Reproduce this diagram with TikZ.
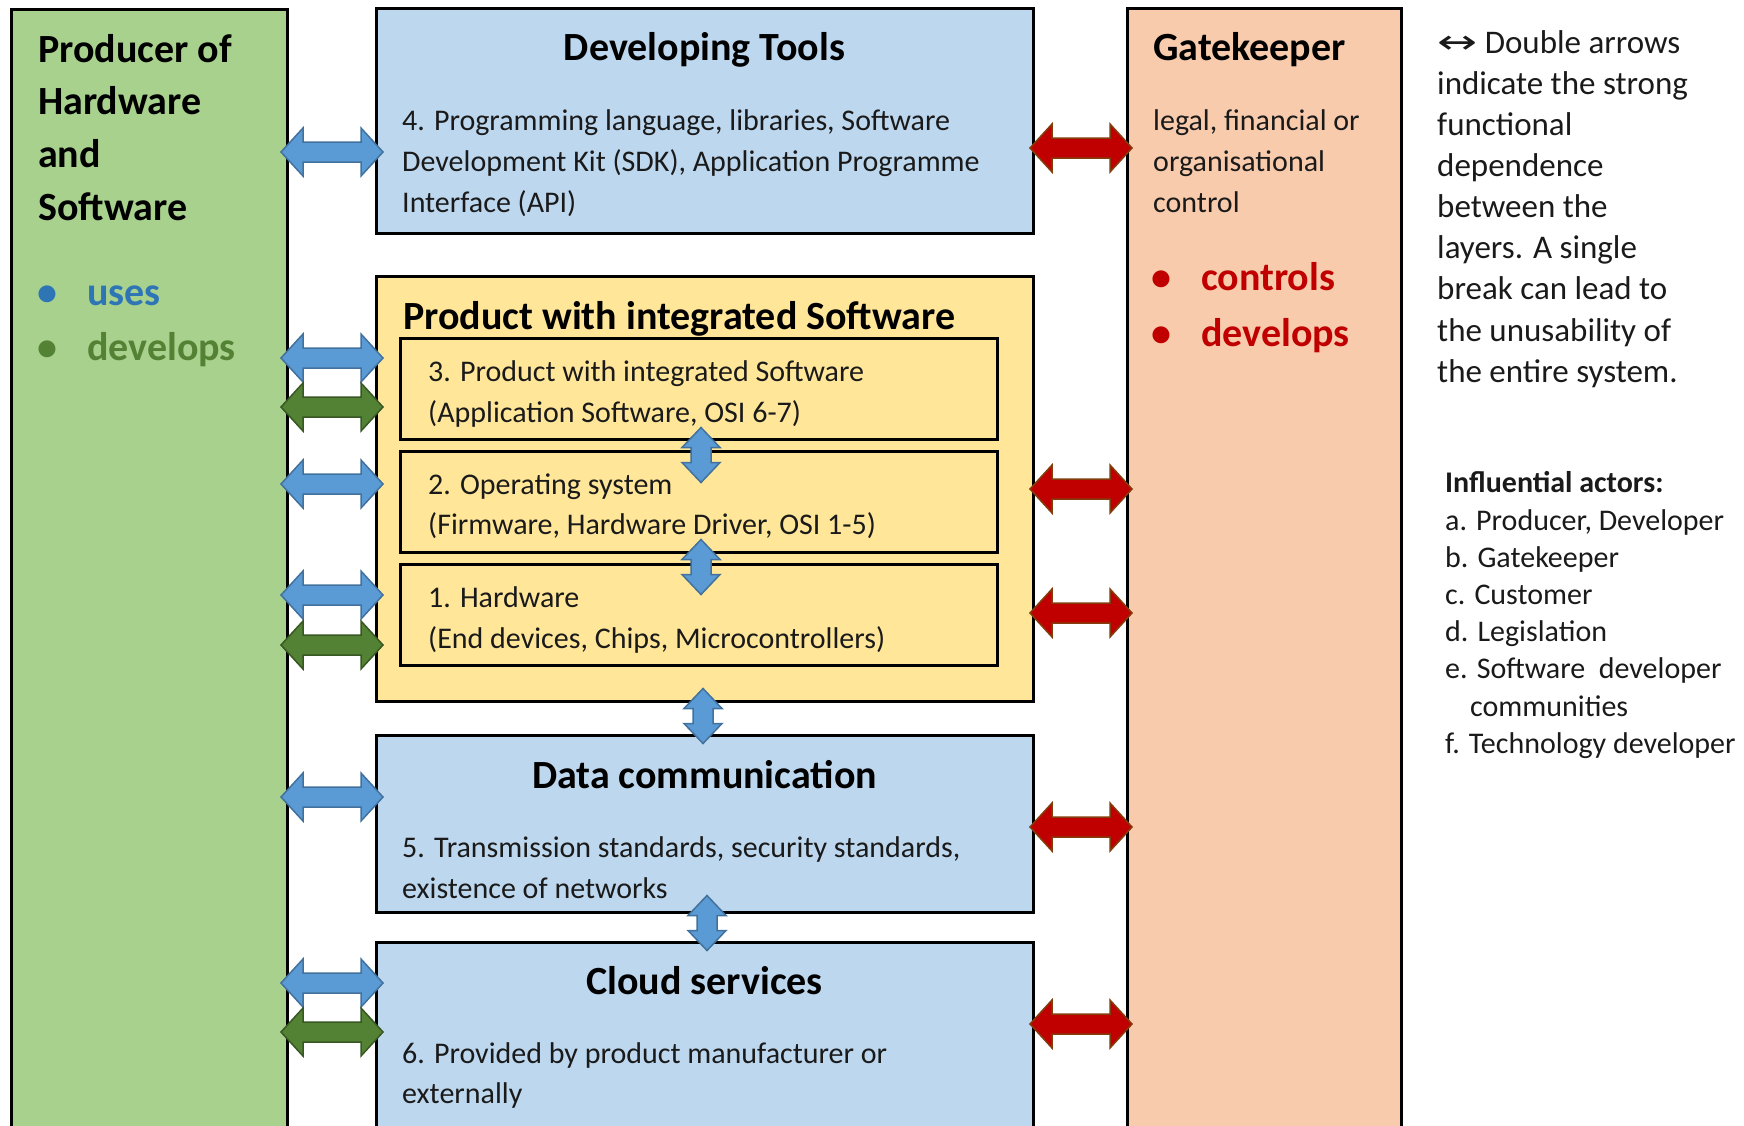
\documentclass[tikz,border=0pt]{standalone}
\usepackage{fontspec}
\setmainfont{Carlito}
\newfontfamily\symfont{DejaVu Sans}
\definecolor{grfill}{HTML}{A9D18E}
\definecolor{blfill}{HTML}{BDD7EE}
\definecolor{yefill}{HTML}{FFE699}
\definecolor{pefill}{HTML}{F8CBAD}
\definecolor{arrblue}{HTML}{5B9BD5}
\definecolor{arrblueline}{HTML}{41719C}
\definecolor{arrgreen}{HTML}{548235}
\definecolor{arrgreenline}{HTML}{385723}
\definecolor{arrred}{HTML}{C00000}
\definecolor{arrredline}{HTML}{843C0C}
\definecolor{usesblue}{HTML}{2E75B6}
\definecolor{devgreen}{HTML}{548235}
\definecolor{ctrlred}{HTML}{C00000}
\definecolor{txt}{HTML}{1A1A1A}
\tikzset{
  panel/.style={draw=black, line width=3pt, anchor=north west, inner sep=0pt, outer sep=0pt},
  hdarr/.pic={\path[pic actions] (-51,0) -- (-29,-24) -- (-29,-10) -- (29,-10) -- (29,-24) -- (51,0) -- (29,24) -- (29,10) -- (-29,10) -- (-29,24) -- cycle;},
  vdarr/.pic={\path[pic actions] (0,-27.5) -- (19,-7.5) -- (10,-7.5) -- (10,7.5) -- (19,7.5) -- (0,27.5) -- (-19,7.5) -- (-10,7.5) -- (-10,-7.5) -- (-19,-7.5) -- cycle;},
  barr/.style={fill=arrblue, draw=arrblueline, line width=1.5pt},
  garr/.style={fill=arrgreen, draw=arrgreenline, line width=1.5pt},
  rarr/.style={fill=arrred, draw=arrredline, line width=1.5pt},
  ttl/.style={font=\fontsize{40}{48}\selectfont\bfseries, inner sep=0pt, anchor=base, text=black},
  ttll/.style={ttl, anchor=base west},
  body/.style={font=\fontsize{30}{36}\selectfont, inner sep=0pt, anchor=base west, text=txt},
  note/.style={font=\fontsize{33}{40}\selectfont, inner sep=0pt, anchor=base west, text=txt},
  act/.style={font=\fontsize{30}{36}\selectfont, inner sep=0pt, anchor=base west, text=txt},
  bul/.style={font=\fontsize{40}{48}\selectfont\bfseries, inner sep=0pt, anchor=base},
}
\begin{document}
\begin{tikzpicture}[x=1pt,y=-1pt]
\path[use as bounding box] (0,0) rectangle (1744,1125);
\clip (0,0) rectangle (1744,1125);
% panels
\node[panel, fill=grfill, minimum width=276pt, minimum height=1140pt] (producer) at (11,9) {};
\node[panel, fill=pefill, minimum width=274pt, minimum height=1140pt] (gate) at (1127,8) {};
\node[panel, fill=blfill, minimum width=657pt, minimum height=225pt] (devtools) at (376,8) {};
\node[panel, fill=yefill, minimum width=657pt, minimum height=425pt] (product) at (376,276) {};
\node[panel, fill=yefill, minimum width=597pt, minimum height=101pt] (box3) at (400,338) {};
\node[panel, fill=yefill, minimum width=597pt, minimum height=101pt] (box2) at (400,451) {};
\node[panel, fill=yefill, minimum width=597pt, minimum height=101pt] (box1) at (400,564) {};
\node[panel, fill=blfill, minimum width=657pt, minimum height=177pt] (datacomm) at (376,735) {};
\node[panel, fill=blfill, minimum width=657pt, minimum height=200pt] (cloud) at (376,942) {};
% producer text
\node[ttll] (p1) at (38,62) {Producer of};
\node[ttll] (p2) at (38,114) {Hardware};
\node[ttll] (p3) at (38,167) {and};
\node[ttll] (p4) at (38,220) {Software};
\node[bul, text=usesblue] (pb1) at (47,305) {•};
\node[ttll, text=usesblue] (puses) at (87,305) {uses};
\node[bul, text=devgreen] (pb2) at (47,360) {•};
\node[ttll, text=devgreen] (pdev) at (87,360) {develops};
% developing tools
\node[ttl] (dtt) at (704.5,60) {Developing Tools};
\node[body] (dt1) at (402,130) {4. Programming language, libraries, Software};
\node[body] (dt2) at (402,171) {Development Kit (SDK), Application Programme};
\node[body] (dt3) at (402,212) {Interface (API)};
% gatekeeper
\node[ttll] (gtt) at (1153,60) {Gatekeeper};
\node[body] (g1) at (1153,130) {legal, financial or};
\node[body] (g2) at (1153,171) {organisational};
\node[body] (g3) at (1153,212) {control};
\node[bul, text=ctrlred] (gb1) at (1161,290) {•};
\node[ttll, text=ctrlred] (gctrl) at (1201,290) {controls};
\node[bul, text=ctrlred] (gb2) at (1161,346) {•};
\node[ttll, text=ctrlred] (gdev) at (1201,346) {develops};
% product
\node[ttll] (prt) at (403,329) {Product with integrated Software};
\node[body] (b31) at (428,381) {3. Product with integrated Software};
\node[body] (b32) at (428,422) {(Application Software, OSI 6-7)};
\node[body] (b21) at (428,494) {2. Operating system};
\node[body] (b22) at (428,534) {(Firmware, Hardware Driver, OSI 1-5)};
\node[body] (b11) at (428,607) {1. Hardware};
\node[body] (b12) at (428,648) {(End devices, Chips, Microcontrollers)};
% data communication
\node[ttl] (dct) at (704.5,788) {Data communication};
\node[body] (dc1) at (402,857) {5. Transmission standards, security standards,};
\node[body] (dc2) at (402,898) {existence of networks};
% cloud
\node[ttl] (clt) at (704.5,994) {Cloud services};
\node[body] (cl1) at (402,1063) {6. Provided by product manufacturer or};
\node[body] (cl2) at (402,1103) {externally};
% right notes
\node[note] (n1) at (1437,53) {{\symfont\scalebox{1.45}[1]{↔}} Double arrows};
\node[note] (n2) at (1437,94) {indicate the strong};
\node[note] (n3) at (1437,135) {functional};
\node[note] (n4) at (1437,176) {dependence};
\node[note] (n5) at (1437,217) {between the};
\node[note] (n6) at (1437,258) {layers. A single};
\node[note] (n7) at (1437,299) {break can lead to};
\node[note] (n8) at (1437,341) {the unusability of};
\node[note] (n9) at (1437,382) {the entire system.};
\node[act, font=\fontsize{30}{36}\selectfont\bfseries] (a0) at (1445,492) {Influential actors:};
\node[act] (a1) at (1445,530) {a. Producer, Developer};
\node[act] (a2) at (1445,567) {b. Gatekeeper};
\node[act] (a3) at (1445,604) {c. Customer};
\node[act] (a4) at (1445,641) {d. Legislation};
\node[act] (a5) at (1445,678) {e. Software\ \ developer};
\node[act] (a6) at (1470,716) {communities};
\node[act] (a7) at (1445,753) {f. Technology developer};
% left arrows
\pic[barr] (la1) at (332,152) {hdarr};
\pic[barr] (la2) at (332,358) {hdarr};
\pic[garr] (la3) at (332,407) {hdarr};
\pic[barr] (la4) at (332,484) {hdarr};
\pic[barr] (la5) at (332,595) {hdarr};
\pic[garr] (la6) at (332,645) {hdarr};
\pic[barr] (la7) at (332,797) {hdarr};
\pic[barr] (la8) at (332,983) {hdarr};
\pic[garr] (la9) at (332,1032) {hdarr};
% right arrows
\pic[rarr] (ra1) at (1081,148) {hdarr};
\pic[rarr] (ra2) at (1081,489) {hdarr};
\pic[rarr] (ra3) at (1081,613) {hdarr};
\pic[rarr] (ra4) at (1081,827) {hdarr};
\pic[rarr] (ra5) at (1081,1024) {hdarr};
% vertical arrows
\pic[barr] (va1) at (701,455) {vdarr};
\pic[barr] (va2) at (701,567) {vdarr};
\pic[barr] (va3) at (703,716) {vdarr};
\pic[barr] (va4) at (707,923) {vdarr};
\end{tikzpicture}
\end{document}
